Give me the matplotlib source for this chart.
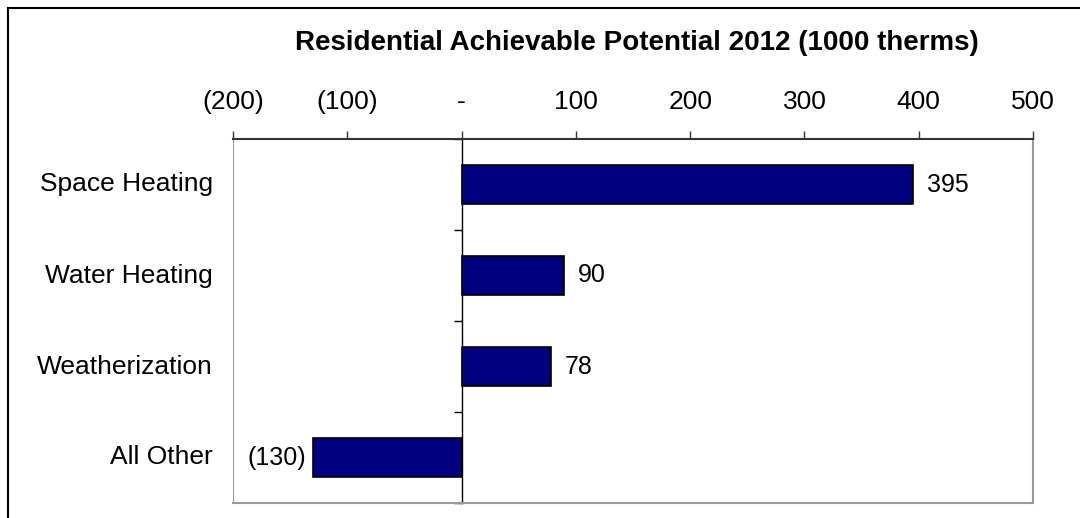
import matplotlib.pyplot as plt
from matplotlib.ticker import FuncFormatter

plt.rcParams['font.family'] = ['Liberation Sans', 'DejaVu Sans']

# residential achievable potential 2012, thousands of therms
categories = ['Space Heating', 'Water Heating', 'Weatherization', 'All Other']
values = [395, 90, 78, -130]
x_ticks = [-200, -100, 0, 100, 200, 300, 400, 500]


def acct(v, pos=None):
    # accounting style: negatives in brackets, zero as a dash
    if v == 0:
        return '-'
    if v < 0:
        return '(%d)' % abs(v)
    return '%d' % v


fig = plt.figure(figsize=(10.8, 5.18), dpi=100)
ax = fig.add_axes([233 / 1080, 1 - 503 / 518, 800 / 1080, 364 / 518])

pos = list(range(len(categories)))
ax.barh(pos, values, height=0.42, color='#000080', edgecolor='black', linewidth=1.2, zorder=3)

ax.set_xlim(-200, 500)
ax.set_ylim(len(categories) - 0.5, -0.5)

# value axis along the top
ax.xaxis.tick_top()
ax.set_xticks(x_ticks)
ax.xaxis.set_major_formatter(FuncFormatter(acct))
ax.tick_params(axis='x', direction='out', length=6, width=1, pad=12, labelsize=19, color='#333333')

# category axis sits on the zero line, ticks between bars
ax.spines['left'].set_position(('data', 0))
ax.spines['left'].set_color('black')
ax.spines['left'].set_linewidth(1)
ax.set_yticks([i + 0.5 for i in range(-1, len(categories))])
ax.set_yticklabels([])
ax.tick_params(axis='y', direction='out', length=6, width=1, color='black')

ax.spines['top'].set_color('#333333')
ax.spines['top'].set_linewidth(1.5)
for side in ['right', 'bottom']:
    ax.spines[side].set_color('#999999')
    ax.spines[side].set_linewidth(1.5)
ax.axvline(-200, color='#999999', linewidth=1.5, zorder=1)

# category names to the left of the plot area
for i, name in enumerate(categories):
    ax.text(-0.025, i, name, transform=ax.get_yaxis_transform(),
            ha='right', va='center', fontsize=19)

# value labels at the bar ends
for i, v in enumerate(values):
    if v >= 0:
        ax.annotate(acct(v), (v, i), xytext=(10, 0), textcoords='offset points',
                    ha='left', va='center', fontsize=18)
    else:
        ax.annotate(acct(v), (v, i), xytext=(-5, 0), textcoords='offset points',
                    ha='right', va='center', fontsize=18)

fig.text(637 / 1080, 1 - 43 / 518, 'Residential Achievable Potential 2012 (1000 therms)',
         ha='center', va='center', fontsize=20, fontweight='bold')

# chart frame, only the top and left edges fall inside the image
fig.add_artist(plt.Line2D([8 / 1080, 1], [1 - 8 / 518, 1 - 8 / 518], transform=fig.transFigure,
                          color='black', linewidth=1.5))
fig.add_artist(plt.Line2D([8 / 1080, 8 / 1080], [0, 1 - 8 / 518], transform=fig.transFigure,
                          color='black', linewidth=1.5))

fig.savefig('out.png', dpi=100)
